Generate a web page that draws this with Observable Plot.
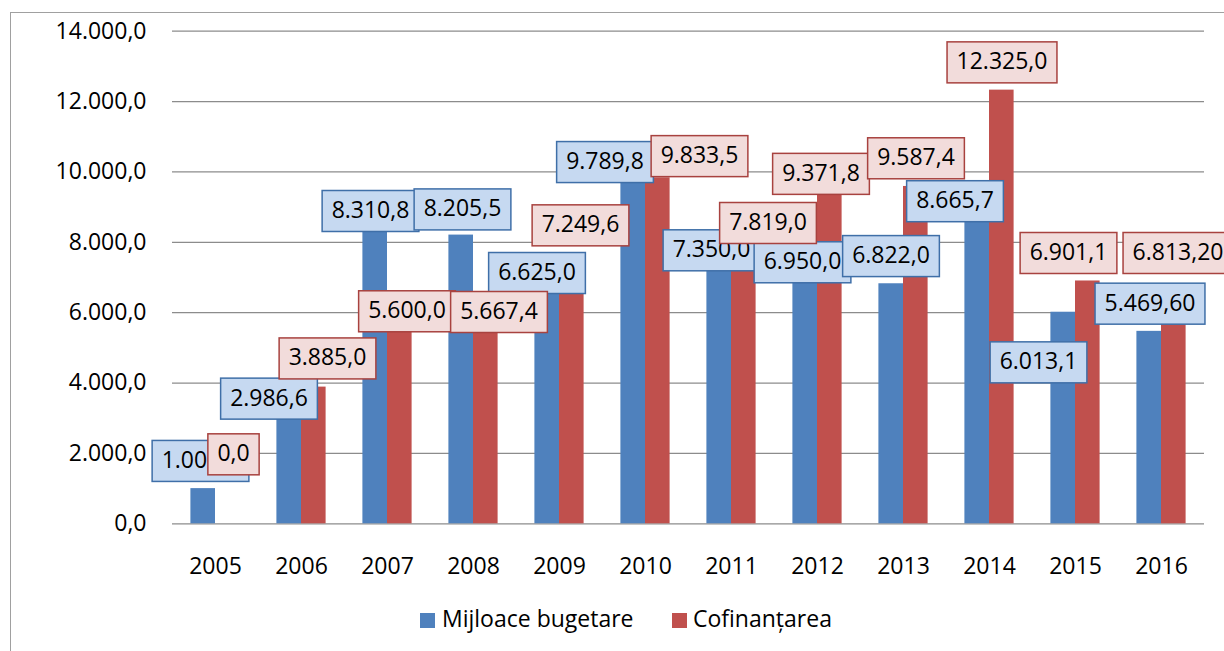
<!DOCTYPE html>
<html>
<head>
<meta charset="utf-8">
<script src="https://cdn.jsdelivr.net/npm/d3@7"></script>
<script src="https://cdn.jsdelivr.net/npm/@observablehq/plot@0.6"></script>
<style>
  html, body { margin: 0; padding: 0; background: #fff; }
  #wrap { position: relative; width: 1224px; height: 651px; overflow: hidden; font-family: "Open Sans", sans-serif; }
  #frame { position: absolute; left: 10px; top: 12px; width: 1300px; height: 700px;
           border-left: 1.5px solid #a0a0a0; border-top: 1.5px solid #a0a0a0; }
  #chart { position: absolute; left: 0; top: 0; }
  .leg { position: absolute; font-size: 23px; color: #000; line-height: 1; white-space: nowrap; }
  .sw { position: absolute; width: 15px; height: 15px; }
</style>
</head>
<body>
<div id="wrap">
  <div id="frame"></div>
  <div id="chart"></div>
  <div class="sw" style="left:420px; top:613px; background:#4f81bd"></div>
  <div class="leg" id="leg1" style="left:442px; top:607px;">Mijloace bugetare</div>
  <div class="sw" style="left:672px; top:613px; background:#c0504d"></div>
  <div class="leg" id="leg2" style="left:693px; top:607px;">Cofinanțarea</div>
</div>
<script>
// ---- data ----
const years = ["2005","2006","2007","2008","2009","2010","2011","2012","2013","2014","2015","2016"];
const seriesNames = ["Mijloace bugetare", "Cofinanțarea"];
const blueValues = [1000.0, 2986.6, 8310.8, 8205.5, 6625.0, 9789.8, 7350.0, 6950.0, 6822.0, 8665.7, 6013.1, 5469.6];
const redValues  = [0.0, 3885.0, 5600.0, 5667.4, 7249.6, 9833.5, 7819.0, 9371.8, 9587.4, 12325.0, 6901.1, 6813.2];
const blueLabels = ["1.000,0","2.986,6","8.310,8","8.205,5","6.625,0","9.789,8","7.350,0","6.950,0","6.822,0","8.665,7","6.013,1","5.469,60"];
const redLabels  = ["0,0","3.885,0","5.600,0","5.667,4","7.249,6","9.833,5","7.819,0","9.371,8","9.587,4","12.325,0","6.901,1","6.813,20"];
const yTicks = [0, 2000, 4000, 6000, 8000, 10000, 12000, 14000];

// label nudges (pixels, relative to bar top / category centre) – manual placement in the original
const blueNudgeX = [-15, -32.5, -17, -11, -22.5, -40.5, -20, -15, -12.5, -34.5, -37, -11.5];
const blueNudgeY = [-28, -20.4, -20.7, -26, -18, -17.6, -15.2, -17.3, -28, -18, 49.8, -28];
const redNudgeX  = [18, 26, 19.5, 25.5, 21, 54, 36.5, 3.5, 12.5, 12.5, -7, 16.5];
const redNudgeY  = [-69.8, -29, -15.8, -12.7, -43.7, -22, -26, -20.5, -28.5, -28.1, -28.3, -31.4];

const rows = years.map((year, i) => ({year, blue: blueValues[i], red: redValues[i]}));

const loc = d3.formatLocale({decimal: ",", thousands: ".", grouping: [3], currency: ["", ""]});
const fmt = loc.format(",.1f");

const FONT = 23;
const labelMarks = [];
rows.forEach((r, i) => {
  labelMarks.push(Plot.text([r], {x: "year", y: "blue", text: () => blueLabels[i],
    dx: blueNudgeX[i], dy: blueNudgeY[i], fill: "#000", fontSize: FONT, textAnchor: "middle",
    className: "lbl-blue"}));
});
rows.forEach((r, i) => {
  labelMarks.push(Plot.text([r], {x: "year", y: "red", text: () => redLabels[i],
    dx: redNudgeX[i], dy: redNudgeY[i], fill: "#000", fontSize: FONT, textAnchor: "middle",
    className: "lbl-red"}));
});

const chart = Plot.plot({
  width: 1224,
  height: 600,
  marginLeft: 172,
  marginRight: 20,
  marginTop: 30.7,
  marginBottom: 76.7,
  style: {fontFamily: "'Open Sans', sans-serif", fontSize: FONT + "px", color: "#000", background: "transparent"},
  x: {domain: years, padding: 0, tickSize: 0, tickPadding: 34, label: null},
  y: {domain: [0, 14000], ticks: yTicks, tickFormat: fmt, tickSize: 0, tickPadding: 26, label: null},
  marks: [
    Plot.ruleY(yTicks, {stroke: "#8c8c8c", strokeWidth: 1.2}),
    Plot.barY(rows, {x: "year", y: "blue", fill: "#4f81bd", insetLeft: 18.4, insetRight: 43}),
    Plot.barY(rows, {x: "year", y: "red", fill: "#c0504d", insetLeft: 43, insetRight: 18.4}),
    ...labelMarks
  ]
});
document.getElementById("chart").appendChild(chart);

// boxes behind the data labels, sized from the rendered text
function addBoxes() {
  const styles = {
    "lbl-blue": {fill: "#c6d9f1", stroke: "#3f6fa8"},
    "lbl-red": {fill: "#f2dcdb", stroke: "#a8423f"}
  };
  for (const cls of Object.keys(styles)) {
    chart.querySelectorAll("g." + cls).forEach(g => {
      g.querySelectorAll("text").forEach(t => {
        const bb = t.getBBox();
        const r = document.createElementNS("http://www.w3.org/2000/svg", "rect");
        const ay = parseFloat(t.getAttribute("y")) || 0;
        r.setAttribute("x", bb.x - 9.5);
        r.setAttribute("y", ay - 20.5);
        r.setAttribute("width", bb.width + 19);
        r.setAttribute("height", 41);
        r.setAttribute("fill", styles[cls].fill);
        r.setAttribute("stroke", styles[cls].stroke);
        r.setAttribute("stroke-width", 1.5);
        const tr = t.getAttribute("transform");
        if (tr) r.setAttribute("transform", tr);
        t.parentNode.insertBefore(r, t);
      });
    });
  }
}
addBoxes();
</script>
</body>
</html>
